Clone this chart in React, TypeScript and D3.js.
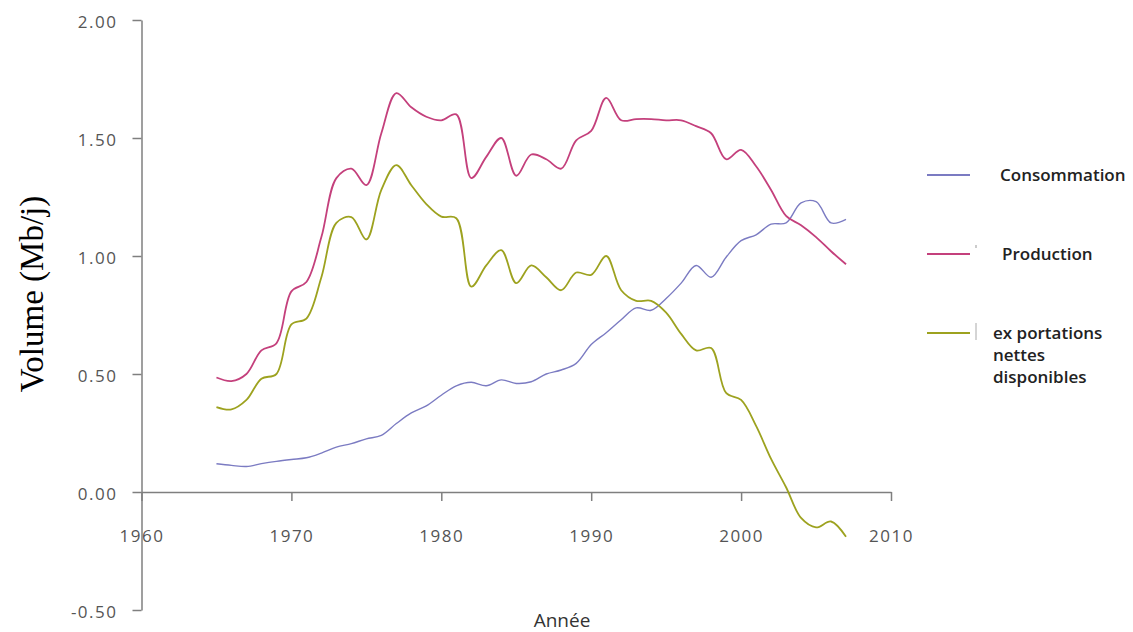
import React, { useRef, useEffect } from "react";
import * as d3 from "d3";

const years = [
  1965, 1966, 1967, 1968, 1969, 1970, 1971, 1972, 1973, 1974,
  1975, 1976, 1977, 1978, 1979, 1980, 1981, 1982, 1983, 1984,
  1985, 1986, 1987, 1988, 1989, 1990, 1991, 1992, 1993, 1994,
  1995, 1996, 1997, 1998, 1999, 2000, 2001, 2002, 2003, 2004,
  2005, 2006, 2007,
];

const consommation = [
  0.12, 0.113, 0.108, 0.12, 0.13, 0.138, 0.145, 0.165, 0.19, 0.205,
  0.225, 0.24, 0.29, 0.335, 0.365, 0.41, 0.45, 0.465, 0.45, 0.475,
  0.46, 0.467, 0.5, 0.517, 0.545, 0.625, 0.675, 0.73, 0.78, 0.77,
  0.82, 0.885, 0.96, 0.91, 0.995, 1.065, 1.09, 1.135, 1.14, 1.225,
  1.23, 1.14, 1.155,
];

const production = [
  0.485, 0.47, 0.5, 0.6, 0.63, 0.85, 0.89, 1.08, 1.33, 1.37,
  1.3, 1.52, 1.69, 1.63, 1.59, 1.575, 1.6, 1.33, 1.42, 1.5,
  1.34, 1.43, 1.41, 1.37, 1.49, 1.53, 1.67, 1.575, 1.58, 1.58,
  1.575, 1.575, 1.55, 1.52, 1.41, 1.45, 1.38, 1.28, 1.17, 1.13,
  1.08, 1.02, 0.965,
];

const exportations = [
  0.36, 0.35, 0.39, 0.48, 0.5, 0.71, 0.735, 0.91, 1.14, 1.165,
  1.07, 1.28, 1.385, 1.3, 1.22, 1.167, 1.16, 0.87, 0.96, 1.025,
  0.885, 0.96, 0.91, 0.855, 0.93, 0.92, 1.0, 0.855, 0.81, 0.81,
  0.76, 0.67, 0.6, 0.61, 0.42, 0.39, 0.28, 0.14, 0.02, -0.11,
  -0.15, -0.125, -0.19,
];

const xTicks = [1960, 1970, 1980, 1990, 2000, 2010];
const yTicks = [-0.5, 0, 0.5, 1, 1.5, 2];

const series = [
  { name: ["Consommation"], values: consommation, color: "#7b7bc2", width: 1.4 },
  { name: ["Production"], values: production, color: "#c4407c", width: 1.8 },
  { name: ["ex portations", "nettes", "disponibles"], values: exportations, color: "#9da21f", width: 1.8 },
];

const W = 1133;
const H = 632;

export default function App() {
  const ref = useRef<SVGSVGElement>(null);

  useEffect(() => {
    const svg = d3.select(ref.current);
    svg.selectAll("*").remove();

    const x = d3.scaleLinear().domain([1960, 2010]).range([141.5, 891]);
    const y = d3.scaleLinear().domain([-0.5, 2]).range([610, 20]);

    const axisColor = "#7f7f7f";
    const tickFont = "'Open Sans', sans-serif";
    const fmt = (d: number) => d3.format(".2f")(d).replace("−", "-");

    // y axis
    const gy = svg
      .append("g")
      .attr("transform", `translate(${x(1960)},0)`)
      .call(d3.axisLeft(y).tickValues(yTicks).tickSize(9).tickSizeOuter(0).tickFormat(fmt));
    gy.select(".domain").attr("stroke", axisColor).attr("stroke-width", 1.5);
    gy.selectAll("line").attr("stroke", axisColor).attr("stroke-width", 1.5);
    gy.selectAll("text")
      .attr("x", -24)
      .attr("dy", "0.45em")
      .attr("fill", "#555")
      .style("font-family", tickFont)
      .style("font-size", "17px")
      .style("letter-spacing", "1.5px");

    // x axis on zero line
    const gx = svg
      .append("g")
      .attr("transform", `translate(0,${y(0)})`)
      .call(d3.axisBottom(x).tickValues(xTicks).tickSize(9).tickSizeOuter(0).tickFormat(d3.format("d")));
    gx.select(".domain").attr("stroke", axisColor).attr("stroke-width", 1.5);
    gx.selectAll("line").attr("stroke", axisColor).attr("stroke-width", 1.5);
    gx.selectAll("text")
      .attr("y", 44)
      .attr("dy", "0.35em")
      .attr("fill", "#555")
      .style("font-family", tickFont)
      .style("font-size", "17px")
      .style("letter-spacing", "1.5px");

    // axis titles
    svg
      .append("text")
      .attr("text-anchor", "middle")
      .attr("x", 562)
      .attr("y", 627)
      .attr("fill", "#333")
      .style("font-family", tickFont)
      .style("font-size", "19px")
      .text("Année");

    svg
      .append("text")
      .attr("text-anchor", "middle")
      .attr("transform", "translate(43,294) rotate(-90)")
      .attr("fill", "#000")
      .style("font-family", "'Liberation Serif', 'Times New Roman', serif")
      .style("font-size", "33px")
      .text("Volume (Mb/j)");

    // lines
    const line = d3
      .line<number>()
      .x((d, i) => x(years[i]))
      .y((d) => y(d))
      .curve(d3.curveCatmullRom);

    series.forEach((s) => {
      svg
        .append("path")
        .attr("d", line(s.values))
        .attr("fill", "none")
        .attr("stroke", s.color)
        .attr("stroke-width", s.width);
    });

    // legend
    const legendY = [175, 254, 333];
    const textX = [1000, 1002, 993];
    series.forEach((s, i) => {
      const g = svg.append("g");
      g.append("line")
        .attr("x1", 927)
        .attr("x2", 970)
        .attr("y1", legendY[i])
        .attr("y2", legendY[i])
        .attr("stroke", s.color)
        .attr("stroke-width", 2);
      s.name.forEach((t, j) => {
        g.append("text")
          .attr("x", textX[i])
          .attr("y", legendY[i] + j * 22)
          .attr("dy", "0.35em")
          .attr("fill", "#222")
          .style("font-family", tickFont)
          .style("font-weight", 600)
          .style("font-size", "17px")
          .text(t);
      });
    });
    // small marks beside legend keys
    svg.append("line").attr("x1", 976).attr("x2", 976).attr("y1", 245).attr("y2", 248).attr("stroke", "#999");
    svg.append("line").attr("x1", 976).attr("x2", 976).attr("y1", 323).attr("y2", 340).attr("stroke", "#aaa");
  }, []);

  return (
    <svg
      ref={ref}
      width={W}
      height={H}
      style={{ position: "absolute", left: 0, top: 0, background: "#fff" }}
    />
  );
}
